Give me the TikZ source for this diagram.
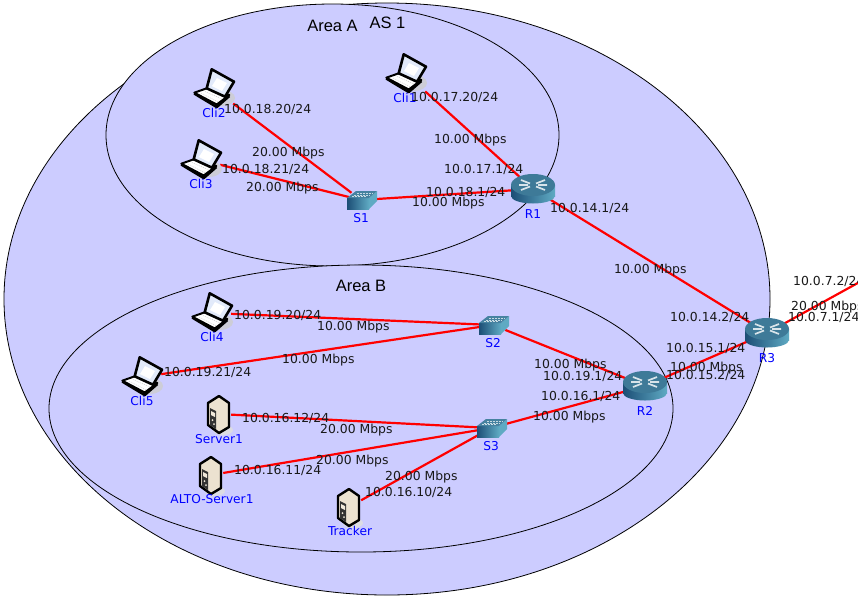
\documentclass[tikz,border=0pt]{standalone}
\usepackage{fontspec}
\setmainfont{DejaVu Sans}
\newfontfamily\areafont{Liberation Sans}
\definecolor{zonefill}{RGB}{204,204,255}
\definecolor{swtop}{RGB}{70,130,160}
\definecolor{swdark}{RGB}{28,78,118}
\definecolor{swlight}{RGB}{95,170,195}
\definecolor{rtop}{RGB}{62,122,152}
\definecolor{beige}{RGB}{236,226,208}
\definecolor{lapscreen}{RGB}{226,234,250}
\definecolor{lapshadow}{RGB}{205,205,215}
\tikzset{
  zone/.style={draw=black,line width=0.8pt,fill=zonefill},
  link/.style={draw=red,line width=2.2pt},
  lbl/.style={font=\fontsize{12.4}{14}\selectfont,text=black!90,anchor=west,inner sep=0pt},
  name lbl/.style={font=\fontsize{12.2}{14}\selectfont,text=blue,anchor=center,inner sep=0pt},
  area/.style={font=\areafont\fontsize{16.5}{18}\selectfont,text=black,anchor=center,inner sep=0pt},
  lapbox/.style={inner sep=0pt,minimum width=38pt,minimum height=36pt},
  srvbox/.style={inner sep=0pt,minimum width=24pt,minimum height=38pt},
  swbox/.style={inner sep=0pt,minimum width=24pt,minimum height=14pt},
  rtbox/.style={inner sep=0pt,minimum width=34pt,minimum height=20pt},
  laptop/.pic={
    \fill[lapshadow] (8,9) ellipse [x radius=13,y radius=8];
    \fill[white,draw=black,line width=2pt,line join=round] (-19.7,3.7) -- (-7.3,-0.7) -- (15.3,6) -- (2.7,15.5) -- cycle;
    \draw[black,line width=2.6pt,line join=round] (-19.7,4.5) -- (2.7,18) -- (15.3,7);
    \draw[black!25,line width=0.4pt,dash pattern=on 1pt off 1pt] (-13,4) -- (4,13) (-9,2.5) -- (8,10);
    \fill[lapscreen,draw=black,line width=2.6pt,line join=round] (-2.3,-19.7) -- (20,-7.3) -- (11,7.7) -- (-7.3,-0.7) -- cycle;
    \fill[white] (3,-11) -- (13,-6) -- (8,2) -- (-2,-3) -- cycle;
  },
  servertower/.pic={
    \fill[lapshadow!70] (4,16) ellipse [x radius=10,y radius=5];
    \fill[beige,draw=black,line width=2.4pt,line join=round] (0,-18) -- (10,-11) -- (10,13) -- (0,19) -- (-11,11) -- (-11,-11) -- cycle;
    \fill[black!80] (-9,-6) -- (-3,-3) -- (-3,15) -- (-9,11) -- cycle;
    \fill[beige!80] (-8,-3) -- (-4,-1) -- (-4,3) -- (-8,1) -- cycle;
    \fill[beige!80] (-6.5,6) circle [radius=1];
    \fill[beige!80] (-5,10) circle [radius=1];
  },
  routericon/.pic={
    \shade[left color=swdark,right color=swlight] (-22,-4) rectangle (22,7);
    \shade[left color=swdark,right color=swlight] (0,7) ellipse [x radius=22,y radius=7.5];
    \fill[rtop] (0,-4) ellipse [x radius=22,y radius=11];
    \draw[white!80!rtop,line width=1.7pt]
      (-12,-9) -- (-3,-5.5) (12,-9) -- (3,-5.5) (-12,1) -- (-3,-2.5) (12,1) -- (3,-2.5)
      (-14,-4) -- (-5,-4) (14,-4) -- (5,-4);
  },
  switchicon/.pic={
    \shade[left color=swdark,right color=swlight] (-14,-2) rectangle (8,9);
    \fill[swlight] (8,-2) -- (16,-9) -- (16,1) -- (8,9) -- cycle;
    \fill[swtop] (-14,-2) -- (-5,-9) -- (16,-9) -- (8,-2) -- cycle;
    \draw[white!70!swtop,line width=0.7pt,dash pattern=on 2pt off 1pt]
      (-7,-5) -- (9,-5) (-4,-7) -- (12,-7) (-9,-3.5) -- (5,-3.5);
  }
}
\begin{document}
\begin{tikzpicture}[x=1pt,y=-1pt]
\useasboundingbox (0,0) rectangle (858,603);
\clip (0,0) rectangle (858,603);
\fill[white] (0,0) rectangle (858,603);

\draw[zone] (387,299) ellipse [x radius=383,y radius=296];
\draw[zone] (332.5,135) ellipse [x radius=226.5,y radius=131];
\draw[zone] (361,408.5) ellipse [x radius=312,y radius=143.5];

\node[area] (areaA) at (332.5,25.5) {Area A};
\node[area] (as1) at (387.5,22.5) {AS 1};
\node[area] (areaB) at (361,285.5) {Area B};

% node anchors
\node[lapbox] (cli1) at (406,74) {};
\node[lapbox] (cli2) at (214,89) {};
\node[lapbox] (cli3) at (201,160) {};
\node[lapbox] (cli4) at (212,313) {};
\node[lapbox] (cli5) at (142,377) {};
\node[srvbox] (server1) at (219,414) {};
\node[srvbox] (alto) at (211,475) {};
\node[srvbox] (tracker) at (349,507) {};
\node[swbox] (s1) at (361,200) {};
\node[swbox] (s2) at (493,325) {};
\node[swbox] (s3) at (491,428) {};
\node[rtbox] (r1) at (533,189) {};
\node[rtbox] (r2) at (645,386) {};
\node[rtbox] (r3) at (767,333) {};
\coordinate (ext) at (885,268);

% links
\draw[link] (cli2) -- (s1);
\draw[link] (cli3) -- (s1);
\draw[link] (cli1) -- (r1);
\draw[link] (s1) -- (r1);
\draw[link] (r1) -- (r3);
\draw[link] (cli4) -- (s2);
\draw[link] (cli5) -- (s2);
\draw[link] (s2) -- (r2);
\draw[link] (s3) -- (r2);
\draw[link] (r2) -- (r3);
\draw[link] (server1) -- (s3);
\draw[link] (alto) -- (s3);
\draw[link] (tracker) -- (s3);
\draw[link] (r3) -- (ext);

% icons
\foreach \n in {cli1,cli2,cli3,cli4,cli5} { \pic at (\n) {laptop}; }
\foreach \n in {server1,alto,tracker} { \pic at (\n) {servertower}; }
\foreach \n in {s1,s2,s3} { \pic at (\n) {switchicon}; }
\foreach \n in {r1,r2,r3} { \pic at (\n) {routericon}; }

% names
\node[name lbl] (lcli2) at (214,113) {Cli2};
\node[name lbl] (lcli1) at (405,98) {Cli1};
\node[name lbl] (lcli3) at (201,184) {Cli3};
\node[name lbl] (ls1) at (361,218) {S1};
\node[name lbl] (lr1) at (533,214) {R1};
\node[name lbl] (lcli4) at (212,337) {Cli4};
\node[name lbl] (lcli5) at (142,401) {Cli5};
\node[name lbl] (ls2) at (493,343) {S2};
\node[name lbl] (lr2) at (645,411) {R2};
\node[name lbl] (lr3) at (767,358) {R3};
\node[name lbl] (lserver1) at (219,439) {Server1};
\node[name lbl] (ls3) at (491,446) {S3};
\node[name lbl] (lalto) at (212,499) {ALTO-Server1};
\node[name lbl] (ltracker) at (350,531) {Tracker};

% address and rate labels
\node[lbl] (t01) at (224,109) {10.0.18.20/24};
\node[lbl] (t02) at (411,97) {10.0.17.20/24};
\node[lbl] (t03) at (434,140) {10.00 Mbps};
\node[lbl] (t04) at (252,153) {20.00 Mbps};
\node[lbl] (t05) at (444,169) {10.0.17.1/24};
\node[lbl] (t06) at (222,169) {10.0.18.21/24};
\node[lbl] (t07) at (246,188) {20.00 Mbps};
\node[lbl] (t08) at (426,192) {10.0.18.1/24};
\node[lbl] (t09) at (412,203) {10.00 Mbps};
\node[lbl] (t10) at (550,208) {10.0.14.1/24};
\node[lbl] (t11) at (614,270) {10.00 Mbps};
\node[lbl] (t12) at (793,281) {10.0.7.2/24};
\node[lbl] (t13) at (791,307) {20.00 Mbps};
\node[lbl] (t14) at (788,317) {10.0.7.1/24};
\node[lbl] (t15) at (670,317) {10.0.14.2/24};
\node[lbl] (t16) at (234,315) {10.0.19.20/24};
\node[lbl] (t17) at (317,327) {10.00 Mbps};
\node[lbl] (t18) at (282,360) {10.00 Mbps};
\node[lbl] (t19) at (666,348) {10.0.15.1/24};
\node[lbl] (t20) at (534,365) {10.00 Mbps};
\node[lbl] (t21) at (670,368) {10.00 Mbps};
\node[lbl] (t22) at (164,372) {10.0.19.21/24};
\node[lbl] (t23) at (543,376) {10.0.19.1/24};
\node[lbl] (t24) at (666,375) {10.0.15.2/24};
\node[lbl] (t25) at (541,396) {10.0.16.1/24};
\node[lbl] (t26) at (533,417) {10.00 Mbps};
\node[lbl] (t27) at (242,418) {10.0.16.12/24};
\node[lbl] (t28) at (320,430) {20.00 Mbps};
\node[lbl] (t29) at (316,461) {20.00 Mbps};
\node[lbl] (t30) at (234,470) {10.0.16.11/24};
\node[lbl] (t31) at (385,477) {20.00 Mbps};
\node[lbl] (t32) at (365,492) {10.0.16.10/24};
\end{tikzpicture}
\end{document}
